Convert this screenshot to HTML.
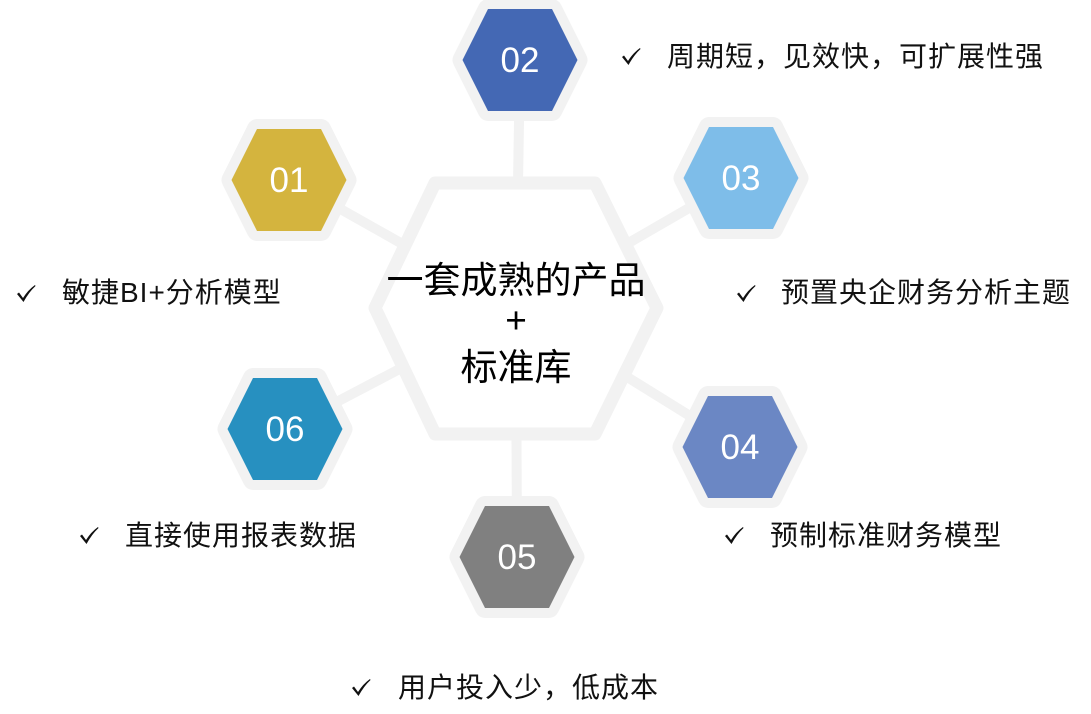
<!DOCTYPE html>
<html><head><meta charset="utf-8"><style>
body{margin:0;width:1091px;height:714px;background:#fff;overflow:hidden;position:relative;font-family:"Liberation Sans","Noto Sans CJK SC",sans-serif}
.t{position:absolute;font-size:28px;letter-spacing:1px;color:#111;white-space:nowrap;line-height:30px}
.m{position:absolute;left:366px;width:300px;text-align:center;font-size:37px;line-height:40px;color:#000;letter-spacing:0px}
</style></head><body>
<svg width="1091" height="714" style="position:absolute;left:0;top:0">
<g stroke="#f2f2f2" stroke-width="10">
<line x1="516" y1="308" x2="520" y2="60"/>
<line x1="516" y1="308" x2="517" y2="557"/>
<line x1="516" y1="308" x2="289" y2="180"/>
<line x1="516" y1="308" x2="741" y2="178"/>
<line x1="516" y1="308" x2="285" y2="429"/>
<line x1="516" y1="308" x2="740" y2="447"/>
</g>
<polygon points="375,308 435,183 595,183 657,308 595,434 435,434" fill="#fff" stroke="#f2f2f2" stroke-width="13" stroke-linejoin="round"/>
<defs>
<polygon id="h" points="-57.5,0 -32,-51 32,-51 57.5,0 32,51 -32,51"/>
<path id="ck" d="M0,9 L2,7.5 L6,13 Q11,5 18,0 L18.5,1 Q12,7 6.5,17 Z" fill="#111"/>
</defs>
<g stroke="#f2f2f2" stroke-width="20" stroke-linejoin="round" fill="#f2f2f2">
<use href="#h" x="520" y="60"/>
<use href="#h" x="289" y="180"/>
<use href="#h" x="741" y="178"/>
<use href="#h" x="740" y="447"/>
<use href="#h" x="517" y="557"/>
<use href="#h" x="285" y="429"/>
</g>
<g>
<use href="#h" x="520" y="60" fill="#4468b4"/>
<use href="#h" x="289" y="180" fill="#d4b43e"/>
<use href="#h" x="741" y="178" fill="#7ebde9"/>
<use href="#h" x="740" y="447" fill="#6b87c4"/>
<use href="#h" x="517" y="557" fill="#808080"/>
<use href="#h" x="285" y="429" fill="#2790c0"/>
</g>
<g fill="#fff" font-family="Liberation Sans,sans-serif" font-size="35" text-anchor="middle">
<text x="520" y="72">02</text>
<text x="289" y="192">01</text>
<text x="741" y="190">03</text>
<text x="740" y="459">04</text>
<text x="517" y="569">05</text>
<text x="285" y="441">06</text>
</g>
<use href="#ck" x="622" y="48"/>
<use href="#ck" x="17" y="285"/>
<use href="#ck" x="737" y="285"/>
<use href="#ck" x="80" y="527"/>
<use href="#ck" x="725" y="527"/>
<use href="#ck" x="352" y="679"/>
</svg>
<div class="m" style="top:261px">一套成熟的产品</div>
<div class="m" style="top:301px">+</div>
<div class="m" style="top:348px">标准库</div>
<div class="t" style="left:667px;top:42px">周期短，见效快，可扩展性强</div>
<div class="t" style="left:62px;top:278px">敏捷BI+分析模型</div>
<div class="t" style="left:781px;top:278px">预置央企财务分析主题</div>
<div class="t" style="left:125px;top:521px">直接使用报表数据</div>
<div class="t" style="left:770px;top:521px">预制标准财务模型</div>
<div class="t" style="left:398px;top:673px">用户投入少，低成本</div>
</body></html>
